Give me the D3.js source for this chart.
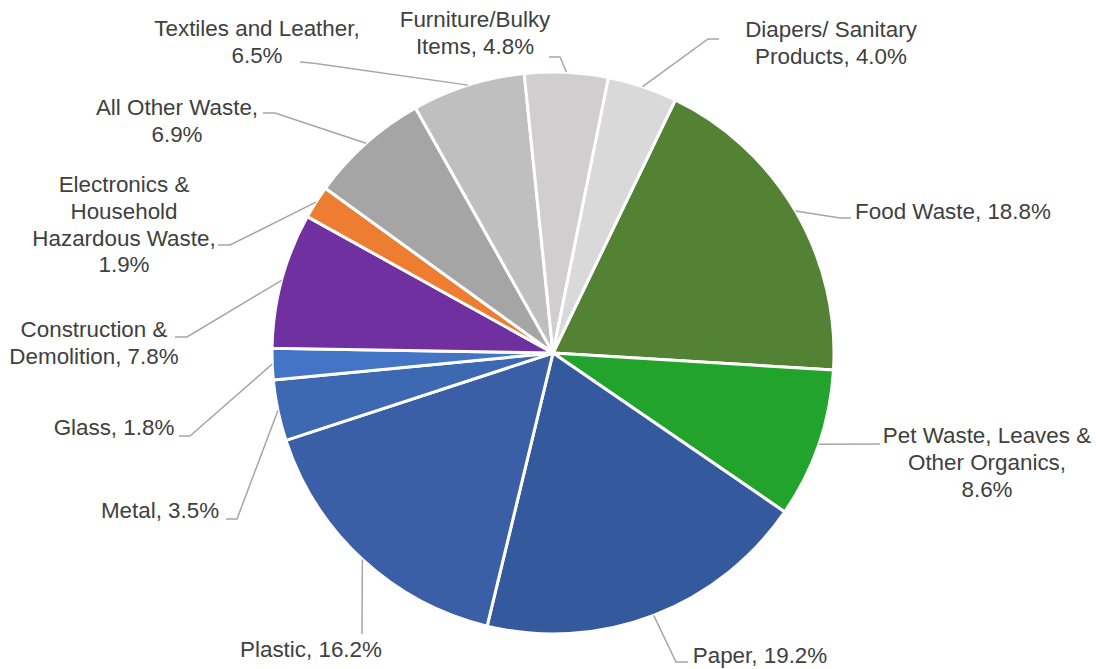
<!DOCTYPE html>
<html><head><meta charset="utf-8">
<script src="https://cdn.jsdelivr.net/npm/d3@7"></script>
<style>html,body{margin:0;padding:0;background:#fff;}</style>
</head><body>
<svg id="chart" width="1096" height="669"></svg>
<script>
const categories = ["Food Waste","Pet Waste, Leaves & Other Organics","Paper","Plastic","Metal","Glass","Construction & Demolition","Electronics & Household Hazardous Waste","All Other Waste","Textiles and Leather","Furniture/Bulky Items","Diapers/ Sanitary Products"];
const values = [18.8, 8.6, 19.2, 16.2, 3.5, 1.8, 7.8, 1.9, 6.9, 6.5, 4.8, 4.0];
const colors = ["#548235","#22a32c","#34599c","#3a5fa6","#3d68b2","#4474c6","#7030a0","#ed7d31","#a5a5a5","#bfbfbf","#d0cece","#d9d9d9"];
const labelLines = [
  ["Food Waste, 18.8%"],
  ["Pet Waste, Leaves &","Other Organics,","8.6%"],
  ["Paper, 19.2%"],
  ["Plastic, 16.2%"],
  ["Metal, 3.5%"],
  ["Glass, 1.8%"],
  ["Construction &","Demolition, 7.8%"],
  ["Electronics &","Household","Hazardous Waste,","1.9%"],
  ["All Other Waste,","6.9%"],
  ["Textiles and Leather,","6.5%"],
  ["Furniture/Bulky","Items, 4.8%"],
  ["Diapers/ Sanitary","Products, 4.0%"]
];
// label layout: text centre x, first baseline y, leader elbow and end points
const labelLayout = [
  {cx:953, y:219, elbow:[840,218], end:[851,218]},
  {cx:987, y:443, elbow:[880,444], end:[880,444]},
  {cx:760, y:663, elbow:[676,662], end:[688,662]},
  {cx:311, y:657, elbow:[362,634], end:[362,634]},
  {cx:160, y:518, elbow:[237,519], end:[226,519]},
  {cx:114, y:435, elbow:[190,436], end:[179,436]},
  {cx:94,  y:337, elbow:[187,337], end:[175,337]},
  {cx:124, y:192, elbow:[230,245], end:[218,245]},
  {cx:177, y:115, elbow:[275,113], end:[263,113]},
  {cx:257, y:36,  elbow:[312,63],  end:[300,62]},
  {cx:475, y:27,  elbow:[560,57],  end:[549,57]},
  {cx:831, y:37,  elbow:[708,39],  end:[719,39]}
];

const cx = 553, cy = 353, R = 281;
const start = 25.8 * Math.PI / 180;
const svg = d3.select("#chart");
const g = svg.append("g").attr("transform", `translate(${cx},${cy})`);
const pie = d3.pie().sort(null).value(d => d).startAngle(start).endAngle(start + 2*Math.PI);
const arcs = pie(values);
const arc = d3.arc().innerRadius(0).outerRadius(R);

g.selectAll("path.slice").data(arcs).enter().append("path")
  .attr("class","slice")
  .attr("d", arc)
  .attr("fill", (d,i) => colors[i])
  .attr("stroke", "#fff")
  .attr("stroke-width", 3)
  .attr("stroke-linejoin","round");

const lh = 26.8;
arcs.forEach((d,i) => {
  const a = (d.startAngle + d.endAngle)/2;
  const ex = cx + R*Math.sin(a), ey = cy - R*Math.cos(a);
  const L = labelLayout[i];
  svg.append("polyline")
    .attr("points", [[ex,ey], L.elbow, L.end].map(p => p.join(",")).join(" "))
    .attr("fill","none").attr("stroke","#a6a6a6").attr("stroke-width",1.5);
  const t = svg.append("text")
    .attr("x", L.cx).attr("y", L.y)
    .attr("text-anchor","middle")
    .attr("font-family","'Liberation Sans', Arial, sans-serif")
    .attr("font-size", 22.4)
    .attr("fill","#404040");
  labelLines[i].forEach((s,k) => {
    t.append("tspan").attr("x", L.cx).attr("y", L.y + k*lh).text(s);
  });
});
</script>
</body></html>
